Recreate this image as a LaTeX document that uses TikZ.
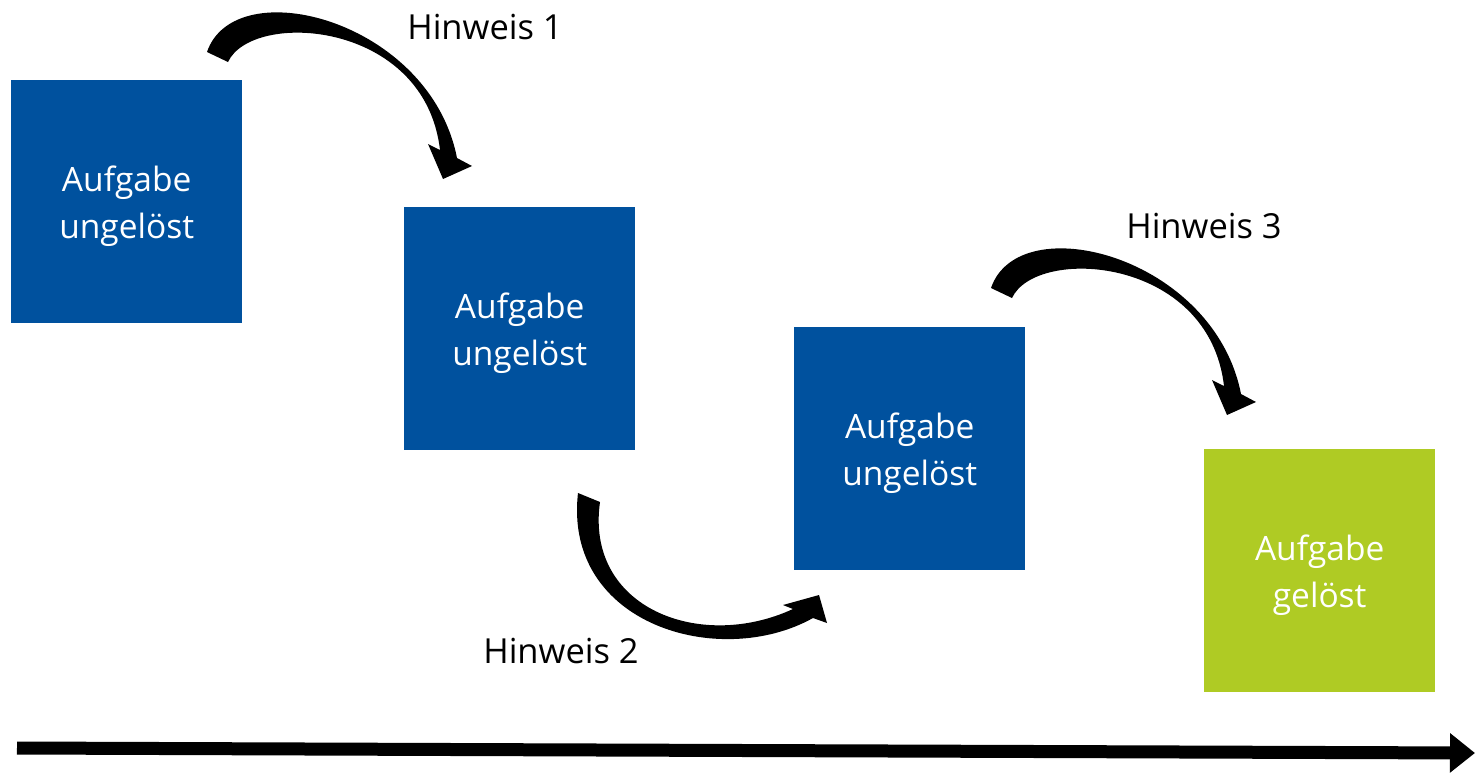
\documentclass[tikz,border=0pt]{standalone}
\usepackage{fontspec}
\setmainfont{Open Sans}
\usetikzlibrary{arrows.meta}
\definecolor{taskblue}{RGB}{0,81,158}
\definecolor{taskgreen}{RGB}{175,203,36}
\begin{document}
\begin{tikzpicture}[x=1pt,y=-1pt,
  task/.style={fill=taskblue, anchor=north west,
    minimum width=231pt, minimum height=243pt, inner sep=0pt},
  solved/.style={task, fill=taskgreen},
  tasktext/.style={text=white, inner sep=0pt, align=center,
    font=\fontsize{33.5}{47}\selectfont},
  hintlabel/.style={anchor=base, inner sep=0pt, font=\fontsize{34.5}{40}\selectfont},
  bendarrow/.style={fill=black, draw=none},
  timeline/.style={line width=13pt, -{Triangle[length=25pt,width=38pt]}}]
  \useasboundingbox (0,0) rectangle (1475,772);

  % task states
  \node[task]   (t1) at (11,80)    {};
  \node[task]   (t2) at (404,207)  {};
  \node[task]   (t3) at (794,327)  {};
  \node[solved] (t4) at (1204,449) {};
  \node[tasktext] (t1txt) at ([yshift=-4.5pt]t1.center) {Aufgabe\\ungelöst};
  \node[tasktext] (t2txt) at ([yshift=-4.5pt]t2.center) {Aufgabe\\ungelöst};
  \node[tasktext] (t3txt) at ([yshift=-4.5pt]t3.center) {Aufgabe\\ungelöst};
  \node[tasktext] (t4txt) at ([yshift=-4.5pt]t4.center) {Aufgabe\\gelöst};

  % hint labels
  \node[hintlabel] (h1) at (485,39)  {Hinweis 1};
  \node[hintlabel] (h2) at (561,663) {Hinweis 2};
  \node[hintlabel] (h3) at (1204,238){Hinweis 3};

  % tapered hook arrow over the top, from t1 down to t2
  \path[bendarrow]
    (207,52) .. controls (235,-30) and (430,20) .. (457,158)
    -- (472,166) -- (443,179) -- (428,144) -- (440,150)
    .. controls (425,20) and (252,10) .. (228,62) -- cycle;

  % same hook arrow from t3 down to t4
  \begin{scope}[shift={(784,236)}]
    \path[bendarrow]
      (207,52) .. controls (235,-30) and (430,20) .. (457,158)
      -- (472,166) -- (443,179) -- (428,144) -- (440,150)
      .. controls (425,20) and (252,10) .. (228,62) -- cycle;
  \end{scope}

  % tapered arrow underneath, from t2 up to t3
  \path[bendarrow]
    (578,493) .. controls (563,625) and (720,670) .. (813,618)
    -- (827,623) -- (819,595) -- (783,605) -- (793,609)
    .. controls (700,652) and (585,608) .. (600,502) -- cycle;

  % time axis
  \coordinate (axisstart) at (17,748);
  \coordinate (axisend) at (1475,753);
  \draw[timeline] (axisstart) -- (axisend);
\end{tikzpicture}
\end{document}
